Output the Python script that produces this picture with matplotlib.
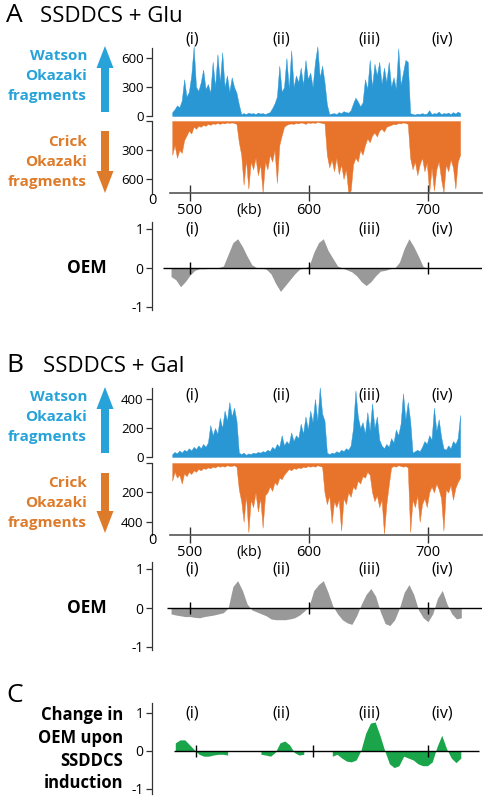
import numpy as np
import matplotlib
matplotlib.use('Agg')
import matplotlib.pyplot as plt

plt.rcParams['font.family'] = ['Open Sans', 'DejaVu Sans']
plt.rcParams['axes.linewidth'] = 0.9

W, H = 488.0, 800.0
XMIN, XMAX = 468.0, 745.4

# Okazaki fragment counts, 2 kb bins starting at 484 kb
bin_edges = np.arange(484, 730, 2)
bin_mid = bin_edges[:-1] + 1

watson_glu = [40, 70, 110, 90, 160, 380, 200, 250, 420, 720,
              300, 260, 350, 480, 280, 330, 240, 560, 300, 640,
              350, 660, 300, 420, 250, 400, 300, 240, 120, 20,
              30, 20, 35, 25, 30, 20, 35, 25, 30, 20,
              30, 40, 80, 130, 200, 520, 250, 300, 600, 280,
              680, 300, 420, 350, 500, 320, 580, 380, 450, 300,
              560, 720, 400, 520, 350, 120, 20, 25, 30, 20,
              40, 30, 50, 40, 35, 60, 130, 190, 150, 100,
              140, 380, 280, 580, 300, 540, 420, 560, 330, 500,
              350, 560, 300, 400, 280, 700, 320, 450, 580, 560,
              30, 20, 15, 25, 20, 30, 20, 25, 60, 20,
              30, 25, 45, 20, 30, 25, 35, 20, 40, 25,
              45, 30]

crick_glu = [350, 250, 380, 300, 330, 200, 150, 100, 130, 60,
             80, 50, 60, 40, 50, 30, 40, 25, 30, 20,
             30, 20, 25, 15, 20, 15, 20, 30, 220, 350,
             660, 400, 700, 420, 500, 380, 560, 450, 740, 420,
             500, 350, 420, 300, 640, 250, 150, 60, 40, 30,
             25, 30, 20, 25, 15, 20, 30, 15, 20, 15,
             20, 10, 15, 20, 25, 350, 480, 400, 520, 380,
             550, 450, 600, 500, 740, 720, 450, 380, 420, 300,
             350, 250, 180, 220, 150, 120, 160, 100, 80, 110,
             60, 50, 40, 30, 35, 20, 25, 15, 20, 30,
             380, 500, 420, 560, 450, 380, 520, 430, 740, 480,
             720, 500, 420, 600, 740, 450, 520, 400, 480, 700,
             420, 350]

watson_gal = [20, 35, 25, 45, 30, 50, 40, 60, 45, 70,
              55, 80, 60, 90, 70, 100, 220, 150, 200, 160,
              270, 200, 320, 250, 380, 280, 340, 250, 30, 20,
              30, 15, 25, 20, 30, 25, 35, 30, 40, 35,
              50, 40, 70, 55, 90, 70, 150, 80, 110, 90,
              170, 110, 150, 130, 230, 160, 280, 190, 320, 240,
              400, 250, 480, 300, 250, 30, 20, 30, 25, 40,
              30, 50, 40, 60, 50, 80, 200, 460, 280, 200,
              240, 160, 310, 180, 370, 200, 280, 120, 80, 60,
              90, 70, 130, 100, 190, 150, 230, 440, 260, 380,
              250, 30, 40, 50, 40, 70, 110, 90, 150, 120,
              340, 180, 260, 140, 60, 50, 80, 60, 110, 90,
              130, 290]

crick_gal = [120, 60, 100, 80, 140, 70, 90, 60, 75, 50,
             60, 40, 50, 35, 40, 30, 35, 25, 30, 20,
             25, 20, 25, 15, 20, 20, 15, 25, 180, 260,
             400, 220, 470, 250, 300, 200, 330, 240, 440, 220,
             200, 160, 190, 130, 150, 100, 110, 80, 60, 40,
             50, 35, 40, 30, 35, 25, 30, 20, 25, 20,
             25, 15, 20, 25, 200, 280, 220, 410, 260, 300,
             250, 460, 240, 280, 200, 230, 160, 180, 120, 140,
             90, 100, 60, 80, 200, 260, 220, 300, 250, 480,
             280, 150, 30, 20, 25, 15, 20, 25, 20, 30,
             470, 250, 300, 220, 400, 280, 240, 300, 200, 160,
             200, 140, 180, 240, 460, 180, 200, 150, 250, 170,
             130, 100]

# OEM values every 4 kb starting at 484 kb
oem_kb = np.arange(484, 732, 4)
nan = np.nan

oem_glu = [-0.22, -0.30, -0.48, -0.35, -0.18, -0.06, -0.02, -0.02, -0.01, 0.0,
           0.01, 0.05, 0.35, 0.65, 0.75, 0.55, 0.30, 0.08, 0.01, 0.0,
           -0.03, -0.15, -0.40, -0.60, -0.45, -0.30, -0.15, -0.03, 0.0, 0.05,
           0.40, 0.65, 0.75, 0.45, 0.25, 0.05, 0.0, -0.05, -0.10, -0.20,
           -0.35, -0.45, -0.35, -0.20, -0.08, -0.06, -0.02, 0.0, 0.15, 0.50,
           0.75, 0.55, 0.30, 0.03, 0.0, 0.01, 0.0, 0.01, 0.0, 0.01,
           0.0, 0.0]

oem_gal = [-0.15, -0.18, -0.20, -0.22, -0.22, -0.24, -0.25, -0.22, -0.20, -0.18,
           -0.15, -0.12, 0.0, 0.55, 0.70, 0.45, 0.10, -0.05, -0.10, -0.15,
           -0.20, -0.28, -0.30, -0.30, -0.30, -0.28, -0.25, -0.18, -0.08, 0.05,
           0.45, 0.60, 0.70, 0.40, 0.05, -0.15, -0.30, -0.38, -0.42, -0.20,
           0.10, 0.35, 0.50, 0.30, -0.10, -0.40, -0.45, -0.30, 0.0, 0.40,
           0.60, 0.35, -0.05, -0.25, -0.35, -0.15, 0.25, 0.45, 0.10, -0.15,
           -0.28, -0.25]

oem_change = [nan, 0.20, 0.28, 0.28, 0.15, 0.02, -0.10, -0.15, -0.15, -0.12,
              -0.10, -0.10, -0.12, nan, nan, nan, nan, nan, nan, -0.10,
              -0.12, -0.15, -0.05, 0.20, 0.25, 0.15, -0.05, -0.12, -0.10, nan,
              nan, nan, nan, nan, -0.15, -0.10, -0.20, -0.28, -0.30, -0.25,
              0.0, 0.45, 0.72, 0.75, 0.40, 0.0, -0.35, -0.45, -0.40, -0.15,
              -0.20, -0.25, -0.35, -0.40, -0.40, -0.30, 0.10, 0.40, 0.05, -0.20,
              -0.32, -0.20]

regions = ['(i)', '(ii)', '(iii)', '(iv)']
region_kb = [502, 577, 651, 712]
kb_ticks = [500, 550, 600, 700]
kb_labels = ['500', '(kb)', '600', '700']
zero_ticks = [500, 600, 700]
change_ticks = [505, 603, 700]

BLUE = '#2a97d5'
BLUE_TXT = '#27a3d9'
ORANGE = '#e8742c'
ORANGE_TXT = '#de7b2a'
GREY = '#999999'
GREEN = '#1aa54b'
AXC = '#333333'

fig = plt.figure(figsize=(W / 100, H / 100), dpi=100)


def add_ax(top, bottom, left=152, right=482):
    ax = fig.add_axes([left / W, 1 - bottom / H, (right - left) / W, (bottom - top) / H])
    ax.set_xlim(XMIN, XMAX)
    ax.patch.set_alpha(0)
    for s in ['top', 'right', 'bottom']:
        ax.spines[s].set_visible(False)
    ax.spines['left'].set_color(AXC)
    ax.tick_params(axis='y', length=4, width=0.9, color=AXC, labelsize=9.5, pad=2)
    ax.set_xticks([])
    return ax


def strand(w_top, w_zero, c_zero, c_bottom, wvals, cvals, wmax, cmax, wspine, ticks, lab_frac):
    axw = add_ax(w_top, w_zero)
    # spiky profile: points at bin centres, dropping to zero at both ends
    axw.fill_between(bin_mid, wvals, 0, color=BLUE, lw=0.3, edgecolor=BLUE)
    axw.set_ylim(0, wmax)
    axw.set_yticks(ticks)
    axw.spines['left'].set_bounds(0, wspine)
    for lab, kb in zip(regions, region_kb):
        axw.text(kb, lab_frac, lab, transform=axw.get_xaxis_transform(),
                 ha='center', va='center', fontsize=11.5)

    axc = add_ax(c_zero, c_bottom)
    axc.fill_between(bin_mid, cvals, 0, color=ORANGE, lw=0.3, edgecolor=ORANGE)
    axc.set_ylim(cmax, 0)
    axc.set_yticks(ticks)
    axc.set_yticklabels([''] + [str(t) for t in ticks[1:]])
    axc.spines['bottom'].set_visible(True)
    axc.spines['bottom'].set_color('#555555')
    axc.spines['bottom'].set_linewidth(1.2)
    axc.spines['bottom'].set_bounds(483.2, XMAX)
    axc.set_xticks(kb_ticks)
    axc.set_xticklabels(kb_labels)
    axc.tick_params(axis='x', direction='inout', length=12, width=1, color=AXC,
                    labelsize=10.5, pad=1)
    axc.xaxis.get_major_ticks()[1].tick1line.set_visible(False)
    return axw, axc


def oem(top, bottom, y_one, y_zero, vals, color, tick_kb, z0, z1):
    ax = add_ax(top, bottom)
    s = float(y_zero - y_one)
    ax.set_ylim(-(bottom - y_zero) / s, (y_zero - top) / s)
    ax.fill_between(oem_kb, vals, 0, color=color, lw=0)
    ax.hlines(0, z0, z1, color='k', lw=1)
    ax.vlines(tick_kb, -6 / s, 6 / s, color='k', lw=1)
    ax.set_yticks([-1, 0, 1])
    ax.set_yticklabels(['-1', '0', '1'])
    ax.tick_params(axis='y', labelsize=10)
    ax.spines['left'].set_bounds(-(bottom - 2 - y_zero) / s, (y_zero - top) / s)
    for lab, kb in zip(regions, region_kb):
        ax.text(kb, 1.0, lab, ha='center', va='center', fontsize=11.5)
    return ax


# panel A
strand(44, 116, 121, 193, watson_glu, crick_glu, 745, 745, 704, [0, 300, 600], 1.056)
oem(222, 312, 229, 268, oem_glu, GREY, zero_ticks, 477.3, XMAX)

# panel B
strand(385, 457, 463, 535, watson_gal, crick_gal, 497, 490, 476, [0, 200, 400], 0.861)
oem(562, 652, 569, 608, oem_gal, GREY, zero_ticks, 480.6, XMAX)

# panel C
oem(703, 796, 713, 751, oem_change, GREEN, change_ticks, 486.5, 742.6)

# overlay in pixel coordinates for labels and arrows
ov = fig.add_axes([0, 0, 1, 1])
ov.set_xlim(0, W)
ov.set_ylim(H, 0)
ov.axis('off')

ov.text(6, 16, 'A', fontsize=19, ha='left', va='center')
ov.text(40, 16, 'SSDDCS + Glu', fontsize=16, ha='left', va='center')
ov.text(6, 365, 'B', fontsize=19, ha='left', va='center')
ov.text(43, 366, 'SSDDCS + Gal', fontsize=16, ha='left', va='center')
ov.text(6, 695, 'C', fontsize=19, ha='left', va='center')

for ys, words, col in [((56, 76, 96), ['Watson', 'Okazaki', 'fragments'], BLUE_TXT),
                       ((142, 162, 182), ['Crick', 'Okazaki', 'fragments'], ORANGE_TXT),
                       ((397, 417, 437), ['Watson', 'Okazaki', 'fragments'], BLUE_TXT),
                       ((483, 503, 523), ['Crick', 'Okazaki', 'fragments'], ORANGE_TXT)]:
    for y, w in zip(ys, words):
        ov.text(87, y, w, color=col, fontsize=11, fontweight='bold', ha='right', va='center')

for y, w in zip((715, 738, 761, 783), ['Change in', 'OEM upon', 'SSDDCS', 'induction']):
    ov.text(123, y, w, fontsize=12, fontweight='bold', ha='right', va='center')

ov.text(107, 268, 'OEM', fontsize=12.5, fontweight='bold', ha='right', va='center')
ov.text(107, 608, 'OEM', fontsize=12.5, fontweight='bold', ha='right', va='center')

ov.text(152, 201, '0', fontsize=10.5, ha='center', va='center')
ov.text(152, 541, '0', fontsize=10.5, ha='center', va='center')

# strand arrows
ov.arrow(105, 112, 0, -66, width=8, head_width=17, head_length=22,
         length_includes_head=True, color=BLUE_TXT, lw=0)
ov.arrow(105, 131, 0, 62, width=8, head_width=17, head_length=22,
         length_includes_head=True, color=ORANGE_TXT, lw=0)
ov.arrow(105, 453, 0, -66, width=8, head_width=17, head_length=22,
         length_includes_head=True, color=BLUE_TXT, lw=0)
ov.arrow(105, 473, 0, 60, width=8, head_width=17, head_length=22,
         length_includes_head=True, color=ORANGE_TXT, lw=0)

fig.savefig('out.png', dpi=100)
